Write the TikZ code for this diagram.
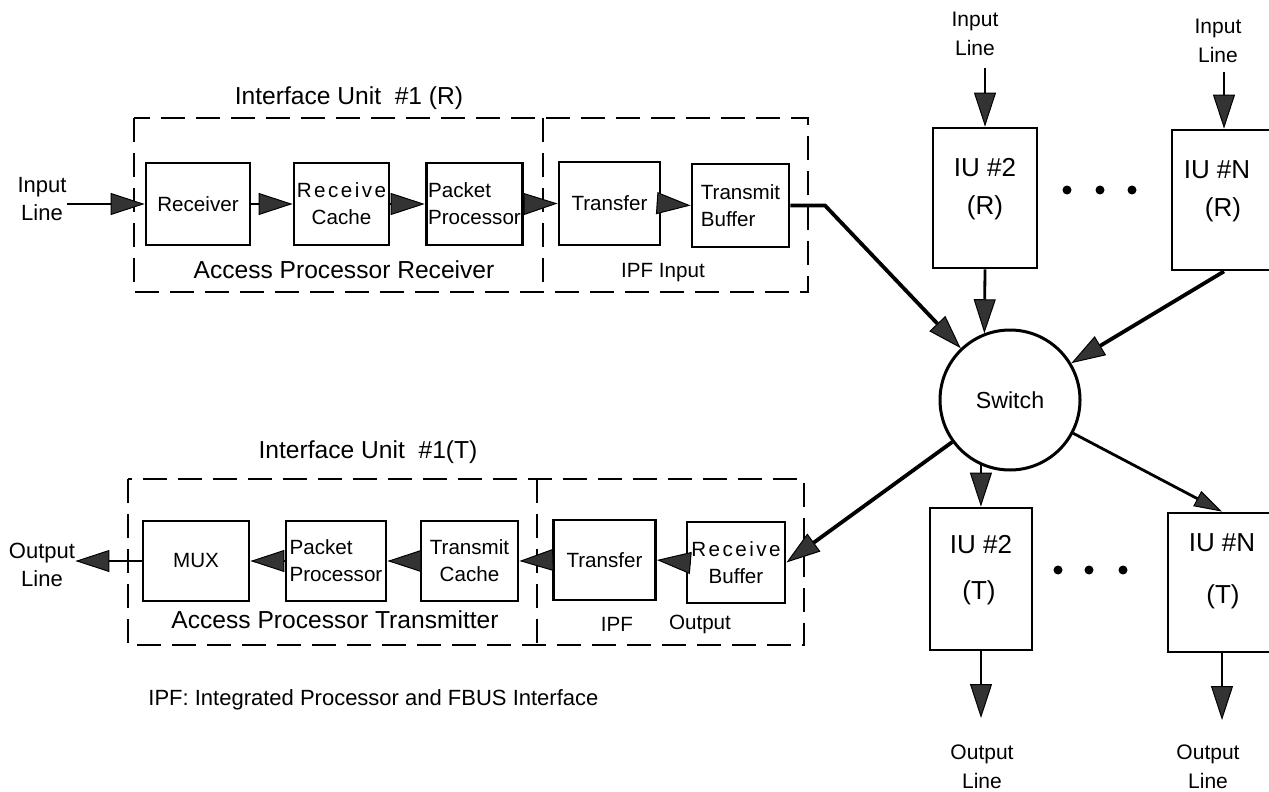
\documentclass[tikz,border=0pt]{standalone}
\usepackage{fontspec}
\setmainfont{Liberation Sans}
\newfontfamily\spacedfont[LetterSpace=12]{Liberation Sans}
\newcommand{\spc}[1]{{\spacedfont #1}}
\usetikzlibrary{arrows.meta,calc}
\tikzset{
  blk/.style={draw, line width=1.4pt, inner sep=1pt, align=center, font=\fontsize{10.3}{13.5}\selectfont},
  lab/.style={inner sep=0pt, font=\fontsize{10.3}{13.5}\selectfont},
  biglab/.style={inner sep=0pt, font=\fontsize{12.3}{15}\selectfont},
  iulab/.style={inner sep=0pt, font=\fontsize{13}{15}\selectfont},
  linelab/.style={inner sep=0pt, align=center, font=\fontsize{11}{14}\selectfont},
  rlinelab/.style={inner sep=0pt, align=center, font=\fontsize{10.5}{14.3}\selectfont},
  footlab/.style={inner sep=0pt, font=\fontsize{11}{13}\selectfont},
  dashbox/.style={line width=1.4pt, dash pattern=on 12pt off 5.5pt},
  conn/.style={line width=1.4pt},
  thickconn/.style={line width=1.9pt},
  bigtip/.tip={Triangle[length=17pt,width=11pt,fill=black!80,line width=0.5pt]},
  smalltip/.tip={Triangle[length=14pt,width=8.5pt,fill=black!80,line width=0.5pt]},
}
\begin{document}
\begin{tikzpicture}[x=0.5pt,y=-0.5pt]
\useasboundingbox (0,0) rectangle (1269,792);
\clip (0,0) rectangle (1269,792);

% ---------- Top: Interface Unit #1 (R) ----------
\draw[dashbox] (134,118) rectangle (808,292);
\draw[dashbox] (543,118) -- (543,292);
\node[biglab] (iu1r) at (349,98) {Interface Unit\ \ \#1 (R)};
\node[biglab] (apr) at (344,270) {Access Processor Receiver};
\node[lab] (ipfin) at (663,273) {IPF Input};

\node[blk, minimum width=52pt, minimum height=41pt] (rcv) at (198,204) {Receiver};
\node[blk, minimum width=47.5pt, minimum height=41pt] (rcache) at (341.5,204) {\spc{Receive}\\Cache};
\node[blk, minimum width=47.5pt, minimum height=41pt, align=left] (pp1) at (474.5,204) {Packet\\Processor};
\node[blk, minimum width=50.5pt, minimum height=41.5pt] (tr1) at (609.5,203.5) {Transfer};
\node[blk, minimum width=48.5pt, minimum height=41.5pt, align=left] (tb) at (740.5,205.5) {Transmit\\Buffer};

\node[linelab] (inL) at (42,199) {Input\\Line};
\draw[conn,-{bigtip}] (inL.east |- rcv.west) -- (rcv.west);
\draw[conn,-{bigtip}] (rcv.east) -- (rcache.west);
\draw[conn,-{bigtip}] (rcache.east) -- (pp1.west);
\draw[conn,-{bigtip}] (pp1.east) -- (tr1.west);
\draw[conn,-{bigtip}] (tr1.east) -- (tb.west);

% ---------- Switch ----------
\node[draw, circle, line width=1.5pt, minimum size=70pt, inner sep=0pt, font=\fontsize{11.6}{14}\selectfont] (sw) at (1010,400) {Switch};
\coordinate (bend) at (825,205.5);
\draw[thickconn,-{bigtip}] (tb.east) -- (bend) -- (sw);

% ---------- Right top: IU (R) ----------
\node[blk, minimum width=52pt, minimum height=70pt] (iu2r) at (985,198) {};
\node[iulab] (iu2rA) at (985,168) {IU \#2};
\node[iulab] (iu2rB) at (985,208) {(R)};
\node[blk, minimum width=52pt, minimum height=70pt] (iunr) at (1224,200) {};
\node[iulab] (iunrA) at (1217,170) {IU \#N};
\node[iulab] (iunrB) at (1223,210) {(R)};

\node[rlinelab] (in2) at (975,34) {Input\\Line};
\coordinate (in2s) at (985,68);
\draw[conn,-{bigtip}] (in2s) -- (iu2r.north);
\node[rlinelab] (inN) at (1218,41) {Input\\Line};
\coordinate (inNs) at (1224,72);
\draw[conn,-{bigtip}] (inNs) -- (iunr.north);

\fill (1067,190) circle (4.5);
\fill (1100,190) circle (4.5);
\fill (1132,190) circle (4.5);

\draw[conn,-{bigtip}] (iu2r.south) -- (sw.111);
\draw[thickconn,-{bigtip}] (iunr.south) -- (sw);

% ---------- Right bottom: IU (T) ----------
\node[blk, minimum width=51pt, minimum height=71pt] (iu2t) at (981,579) {};
\node[iulab] (iu2tA) at (981,545) {IU \#2};
\node[iulab] (iu2tB) at (979,593) {(T)};
\node[blk, minimum width=54pt, minimum height=69.5pt] (iunt) at (1222,582.5) {};
\node[iulab] (iuntA) at (1222,543) {IU \#N};
\node[iulab] (iuntB) at (1223,597) {(T)};

\fill (1058,570) circle (4.5);
\fill (1089,570) circle (4.5);
\fill (1123,570) circle (4.5);

\draw[conn,-{bigtip}] (sw.246) -- (sw.246 |- iu2t.north);
\draw[conn,-{smalltip}] (sw) -- (iunt.north);

\coordinate (o2) at (981,718);
\draw[conn,-{bigtip}] (iu2t.south) -- (o2);
\node[rlinelab] (out2) at (982,767) {Output\\Line};
\coordinate (oN) at (1222,720);
\draw[conn,-{bigtip}] (iunt.south) -- (oN);
\node[rlinelab] (outN) at (1208,767) {Output\\Line};

% ---------- Bottom: Interface Unit #1 (T) ----------
\draw[dashbox] (128,479) rectangle (804,645);
\draw[dashbox] (537,479) -- (537,645);
\node[biglab] (iu1t) at (368,452) {Interface Unit\ \ \#1(T)};
\node[biglab] (apt) at (335,620) {Access Processor Transmitter};
\node[lab] (ipf2) at (617,624) {IPF};
\node[lab] (out3) at (700,624) {Output};

\node[blk, minimum width=53pt, minimum height=40pt] (mux) at (196,561) {MUX};
\node[blk, minimum width=50pt, minimum height=40pt, align=left] (pp2) at (336,561) {Packet\\Processor};
\node[blk, minimum width=48.5pt, minimum height=40pt] (tc) at (469.5,561) {Transmit\\Cache};
\node[blk, minimum width=51pt, minimum height=40pt] (tr2) at (604.5,560) {Transfer};
\node[blk, minimum width=49pt, minimum height=40.5pt] (rb) at (736,562.5) {\spc{Receive}\\Buffer};

\draw[thickconn,-{bigtip}] (sw) -- (rb.east);
\draw[conn,-{bigtip}] (rb.west) -- (tr2.east);
\draw[conn,-{bigtip}] (tr2.west) -- (tc.east);
\draw[conn,-{bigtip}] (tc.west) -- (pp2.east);
\draw[conn,-{bigtip}] (pp2.west) -- (mux.east);
\node[linelab] (outL) at (42,565) {Output\\Line};
\draw[conn,-{bigtip}] (mux.west) -- (outL.east |- mux.west);

\node[footlab, anchor=west] (fn) at (148,700) {IPF: Integrated Processor and FBUS Interface};
\end{tikzpicture}
\end{document}
